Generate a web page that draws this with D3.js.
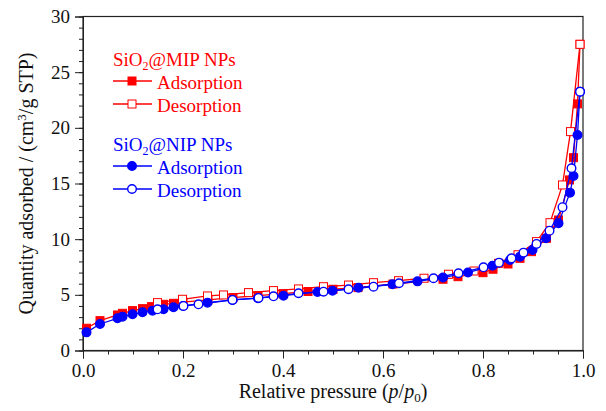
<!DOCTYPE html>
<html>
<head>
<meta charset="utf-8">
<script src="https://cdn.jsdelivr.net/npm/d3@7"></script>
<style>
  body { margin: 0; background: #fff; }
  svg text { font-family: "Liberation Serif", "Times New Roman", serif; }
</style>
</head>
<body>
<div class="chart"></div>
<script>
// relative pressure / quantity adsorbed
const mipAdsP = [0.007, 0.034, 0.069, 0.079, 0.099, 0.119, 0.137, 0.161, 0.181, 0.2, 0.25, 0.3, 0.35, 0.4, 0.45, 0.5, 0.55, 0.62, 0.72, 0.75, 0.8, 0.82, 0.85, 0.874, 0.897, 0.927, 0.951, 0.973, 0.981, 0.989, 0.994];
const mipAdsV = [2.0, 2.68, 3.19, 3.34, 3.58, 3.76, 3.94, 4.15, 4.24, 4.35, 4.55, 4.75, 4.93, 5.1, 5.3, 5.5, 5.65, 5.97, 6.4, 6.63, 6.99, 7.3, 7.77, 8.28, 8.88, 10.08, 11.72, 15.32, 17.32, 22.15, 27.5];
const mipDesP = [0.994, 0.975, 0.959, 0.934, 0.907, 0.87, 0.831, 0.782, 0.731, 0.682, 0.631, 0.581, 0.531, 0.481, 0.431, 0.381, 0.331, 0.281, 0.249, 0.199, 0.149];
const mipDesV = [27.5, 19.66, 14.87, 11.48, 9.78, 8.6, 7.83, 7.14, 6.85, 6.49, 6.27, 6.09, 5.88, 5.73, 5.53, 5.38, 5.2, 4.99, 4.9, 4.6, 4.3];

const nipAdsP = [0.007, 0.034, 0.069, 0.079, 0.099, 0.119, 0.139, 0.161, 0.181, 0.2, 0.249, 0.299, 0.35, 0.401, 0.469, 0.499, 0.551, 0.619, 0.669, 0.72, 0.77, 0.819, 0.854, 0.874, 0.899, 0.926, 0.951, 0.974, 0.981, 0.989, 0.994];
const nipAdsV = [1.63, 2.38, 2.89, 3.04, 3.25, 3.43, 3.58, 3.7, 3.88, 4.0, 4.3, 4.54, 4.7, 4.92, 5.26, 5.37, 5.64, 5.95, 6.21, 6.55, 7.0, 7.62, 8.13, 8.43, 9.03, 10.08, 11.43, 14.18, 15.68, 19.36, 23.25];
const nipDesP = [0.994, 0.977, 0.959, 0.933, 0.907, 0.881, 0.857, 0.832, 0.801, 0.751, 0.701, 0.632, 0.581, 0.531, 0.481, 0.431, 0.381, 0.351, 0.299, 0.231, 0.201, 0.149];
const nipDesV = [23.25, 16.37, 12.87, 10.76, 9.57, 8.79, 8.28, 7.89, 7.47, 6.94, 6.49, 6.04, 5.73, 5.5, 5.28, 5.14, 4.87, 4.72, 4.54, 4.15, 4.0, 3.7];

const xTicks = [0, 0.2, 0.4, 0.6, 0.8, 1.0];
const yTicks = [0, 5, 10, 15, 20, 25, 30];

const red = "#ff0000", blue = "#0000ff";
const serif = '"Liberation Serif", "Times New Roman", serif';

const margin = ({top: 16.5, right: 23, bottom: 60.5, left: 83});
const width = 606 - margin.left - margin.right;
const height = 411 - margin.top - margin.bottom;

const root = d3.select(".chart").append("svg")
    .attr("width", 606)
    .attr("height", 411);
const svg = root.append("g")
    .attr("transform", `translate(${margin.left},${margin.top})`);

const x = d3.scaleLinear().domain([0, 1]).range([0, width]);
const y = d3.scaleLinear().domain([0, 30]).range([height, 0]);

// minor ticks
svg.append("g")
    .attr("transform", `translate(0,${height})`)
    .call(d3.axisBottom(x).tickValues(d3.range(0, 1.0001, 0.05)).tickSize(4).tickFormat(""))
    .call(g => g.select(".domain").remove());
svg.append("g")
    .call(d3.axisLeft(y).tickValues(d3.range(0, 31, 1)).tickSize(4).tickFormat(""))
    .call(g => g.select(".domain").remove());

// major ticks + labels
const xAxisG = svg.append("g")
    .attr("transform", `translate(0,${height})`)
    .call(d3.axisBottom(x).tickValues(xTicks).tickSize(8).tickPadding(5).tickFormat(d3.format(".1f")));
const yAxisG = svg.append("g")
    .call(d3.axisLeft(y).tickValues(yTicks).tickSize(8).tickPadding(5));
svg.selectAll("g").attr("font-family", serif);
svg.selectAll(".tick text")
    .style("font-family", serif)
    .attr("font-size", 19)
    .attr("fill", "#111");
svg.selectAll(".tick line").attr("stroke", "#222");
svg.selectAll(".domain").attr("stroke", "#222");

// frame
svg.append("rect")
    .attr("width", width).attr("height", height)
    .attr("fill", "none").attr("stroke", "#222").attr("stroke-width", 1.2);

// axis titles
const xt = svg.append("text")
    .attr("x", width / 2).attr("y", height + 47)
    .attr("text-anchor", "middle")
    .attr("font-size", 20).attr("fill", "#111");
xt.append("tspan").text("Relative pressure (");
xt.append("tspan").attr("font-style", "italic").text("p");
xt.append("tspan").text("/");
xt.append("tspan").attr("font-style", "italic").text("p");
xt.append("tspan").attr("font-size", 13).attr("dy", 4).text("0");
xt.append("tspan").attr("dy", -4).text(")");

const yt = svg.append("text")
    .attr("transform", `translate(-50,${height / 2}) rotate(-90)`)
    .attr("text-anchor", "middle")
    .attr("font-size", 20).attr("fill", "#111");
yt.append("tspan").text("Quantity adsorbed / (cm");
yt.append("tspan").attr("font-size", 13).attr("dy", -7).text("3");
yt.append("tspan").attr("dy", 7).text("/g STP)");

// series
const line = d3.line().x(d => x(d[0])).y(d => y(d[1]));
const series = [
  {p: mipAdsP, v: mipAdsV, color: red, shape: "square", filled: true},
  {p: mipDesP, v: mipDesV, color: red, shape: "square", filled: false},
  {p: nipAdsP, v: nipAdsV, color: blue, shape: "circle", filled: true},
  {p: nipDesP, v: nipDesV, color: blue, shape: "circle", filled: false}
];

function drawMarker(g, shape, color, filled) {
  if (shape === "square") {
    g.append("rect").attr("x", -4).attr("y", -4).attr("width", 8).attr("height", 8)
      .attr("fill", filled ? color : "#fff").attr("stroke", color).attr("stroke-width", 1);
  } else {
    g.append("circle").attr("r", 4.3)
      .attr("fill", filled ? color : "#fff").attr("stroke", color).attr("stroke-width", 1.4);
  }
}

series.forEach(s => {
  const pts = s.p.map((p, i) => [p, s.v[i]]);
  svg.append("path").datum(pts)
    .attr("d", line)
    .attr("fill", "none").attr("stroke", s.color).attr("stroke-width", 1.3);
  svg.append("g").selectAll("g")
    .data(pts).enter().append("g")
    .attr("transform", d => `translate(${x(d[0])},${y(d[1])})`)
    .each(function() { drawMarker(d3.select(this), s.shape, s.color, s.filled); });
});

// legend
const legend = root.append("g");
const groups = [
  {name: "MIP", color: red, shape: "square", top: 66},
  {name: "NIP", color: blue, shape: "circle", top: 151}
];
groups.forEach(gr => {
  const h = legend.append("text").attr("x", 113).attr("y", gr.top)
    .attr("font-size", 19).attr("fill", gr.color);
  h.append("tspan").text("SiO");
  h.append("tspan").attr("font-size", 12).attr("dy", 4).text("2");
  h.append("tspan").attr("dy", -4).text("@" + gr.name + " NPs");
  ["Adsorption", "Desorption"].forEach((lab, i) => {
    const ly = gr.top + 15 + i * 23;
    legend.append("line").attr("x1", 113).attr("x2", 152).attr("y1", ly).attr("y2", ly)
      .attr("stroke", gr.color).attr("stroke-width", 1.3);
    drawMarker(legend.append("g").attr("transform", `translate(132,${ly})`), gr.shape, gr.color, i === 0);
    legend.append("text").attr("x", 157).attr("y", ly + 8)
      .attr("font-size", 19).attr("fill", gr.color).text(lab);
  });
});
</script>
</body>
</html>
